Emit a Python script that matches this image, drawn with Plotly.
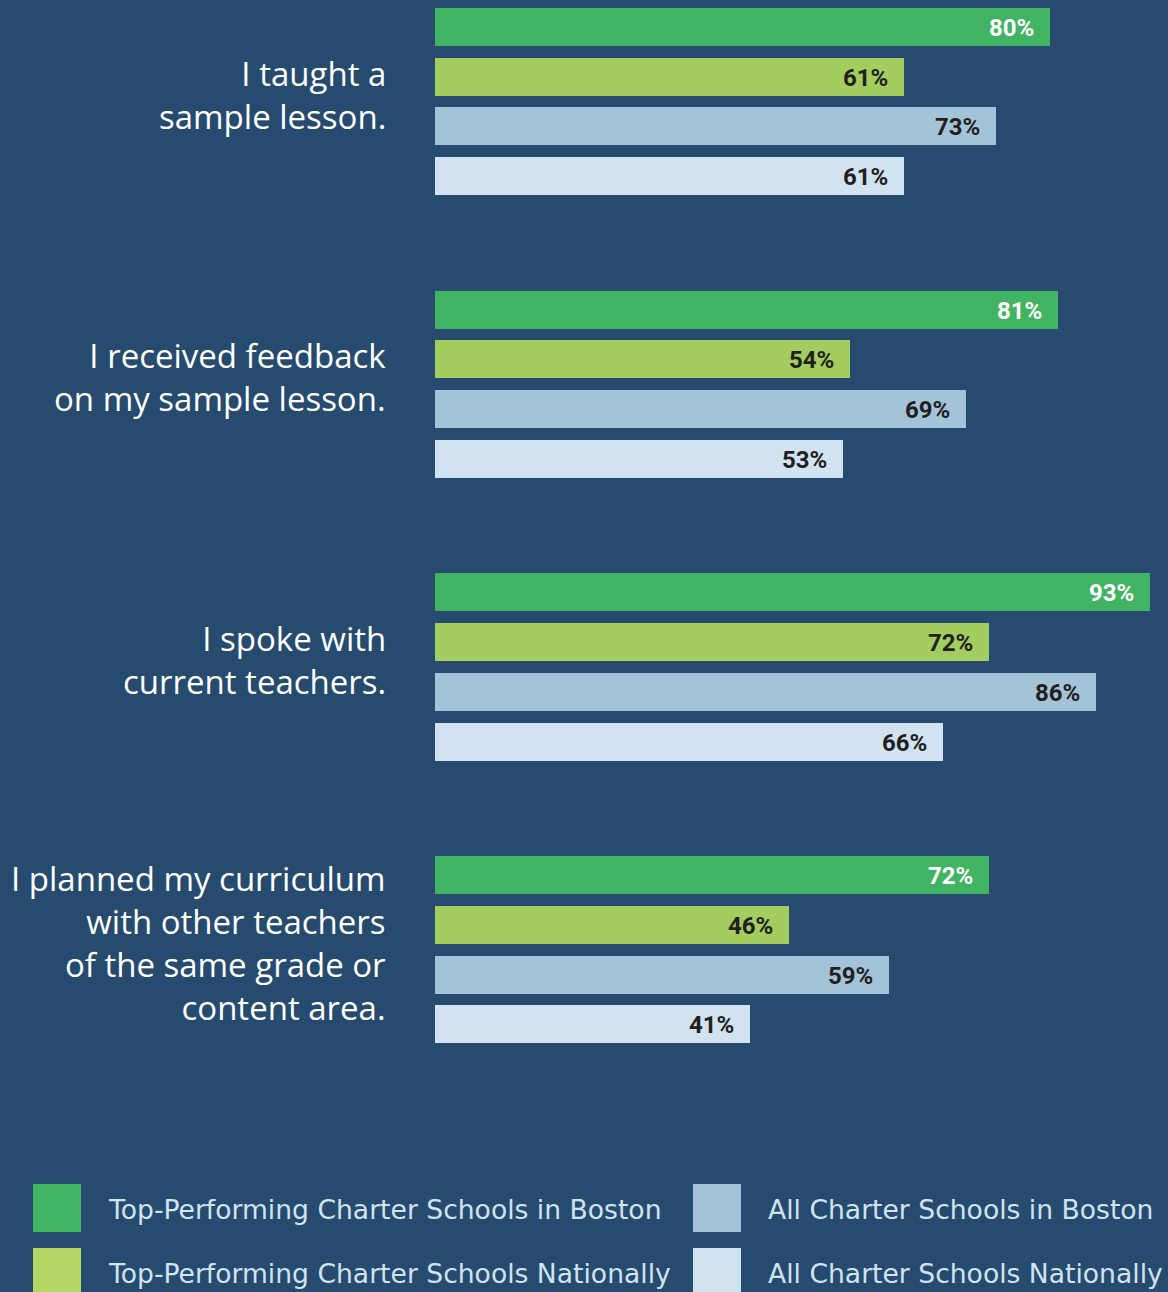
import plotly.graph_objects as go

# Survey items (one group of four bars each)
questions = [
    "I taught a<br>sample lesson.",
    "I received feedback<br>on my sample lesson.",
    "I spoke with<br>current teachers.",
    "I planned my curriculum<br>with other teachers<br>of the same grade or<br>content area.",
]

series_names = [
    "Top-Performing Charter Schools in Boston",
    "Top-Performing Charter Schools Nationally",
    "All Charter Schools in Boston",
    "All Charter Schools Nationally",
]

top_boston = [80, 81, 93, 72]
top_national = [61, 54, 72, 46]
all_boston = [73, 69, 86, 59]
all_national = [61, 53, 66, 41]

series_values = [top_boston, top_national, all_boston, all_national]

# Styling
W, H = 1168, 1292
BG = "#264B6F"
bar_colors = ["#40B462", "#A3CD5F", "#A3C4D8", "#D1E3F1"]
swatch_colors = ["#40B462", "#B5D566", "#A3C4D8", "#D1E3F1"]
label_colors = ["#FFFFFF", "#231F20", "#231F20", "#231F20"]

PX_PER_PCT = 7.69          # horizontal scale of the bars
BAR_LEFT = 435             # pixel where the bars start
GROUP_TOP = 27             # centre of the first bar
GROUP_STEP = 282.7         # distance between question groups
BAR_STEP = 49.7            # distance between bars inside a group
BAR_THICK = 38

fig = go.Figure()

for s, (name, vals) in enumerate(zip(series_names, series_values)):
    ys = [GROUP_TOP + g * GROUP_STEP + s * BAR_STEP for g in range(len(vals))]
    fig.add_trace(go.Bar(
        x=vals, y=ys, orientation="h", width=BAR_THICK,
        marker=dict(color=bar_colors[s], line=dict(width=0)),
        name=name, showlegend=False, hoverinfo="x",
    ))
    for v, yc in zip(vals, ys):
        fig.add_annotation(
            x=v, y=yc, xref="x", yref="y", text=f"{v}%",
            showarrow=False, xanchor="right", yanchor="middle", xshift=-14, yshift=-1,
            font=dict(family="Roboto", size=24, color=label_colors[s], weight="bold"),
        )

# Question labels, right-aligned to the left of the bars
for g, q in enumerate(questions):
    yc = GROUP_TOP + g * GROUP_STEP + 1.5 * BAR_STEP
    fig.add_annotation(
        x=388 / W, y=yc, xref="paper", yref="y", text=q,
        showarrow=False, xanchor="right", yanchor="middle", align="right", yshift=7,
        font=dict(family="Open Sans", size=33, color="#FFFFFF"),
    )

# Legend: two columns of swatches with labels
legend_pos = [(33, 1184), (33, 1248), (693, 1184), (693, 1248)]
for s, (lx, ly) in enumerate(legend_pos):
    fig.add_shape(
        type="rect", xref="paper", yref="y",
        x0=lx / W, x1=(lx + 48) / W, y0=ly, y1=ly + 48,
        fillcolor=swatch_colors[s], line=dict(width=0), layer="above",
    )
    fig.add_annotation(
        x=(lx + 73) / W, y=ly + 25, xref="paper", yref="y", text=series_names[s],
        showarrow=False, xanchor="left", yanchor="middle",
        font=dict(family="DejaVu Sans", size=26.6, color="#D1E3F1"),
    )

fig.update_layout(
    width=W, height=H,
    margin=dict(l=0, r=0, t=0, b=0),
    paper_bgcolor=BG, plot_bgcolor=BG,
    bargap=0,
    xaxis=dict(domain=[BAR_LEFT / W, 1], range=[0, (W - BAR_LEFT) / PX_PER_PCT],
               visible=False, fixedrange=True),
    yaxis=dict(range=[H, 0], visible=False, fixedrange=True),
)

fig.write_html("out.html")
